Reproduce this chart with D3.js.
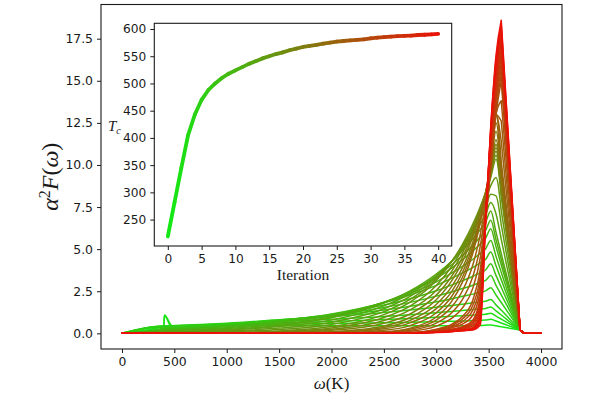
<!DOCTYPE html>
<html><head><meta charset="utf-8">
<script src="https://cdn.jsdelivr.net/npm/d3@7/dist/d3.min.js"></script>
<style>body{margin:0;background:#fff}svg{display:block}</style>
</head><body><svg id="c" width="600" height="398"></svg>
<script>
// ---------- data ----------
const omegaGrid = [0,400,405,480,1000,1500,2000,2500,2750,3000,3150,3250,3350,3420,3470,3520,3570,3620,3800,3840,4000];
const spectra = [
[0,0.45,1.09,0.45,0.45,0.45,0.45,0.45,0.45,0.45,0.45,0.45,0.46,0.47,0.48,0.50,0.45,0.39,0.2,0,0],
[0,0.44,1.05,0.30,0.49,0.53,0.58,0.63,0.66,0.70,0.72,0.73,0.76,0.78,0.79,0.83,0.73,0.61,0.2,0,0],
[0,0.44,0.44,0.45,0.53,0.61,0.70,0.82,0.88,0.95,1.01,1.04,1.08,1.11,1.13,1.20,1.02,0.85,0.2,0,0],
[0,0.43,0.43,0.45,0.55,0.70,0.84,1.00,1.11,1.23,1.30,1.35,1.41,1.45,1.48,1.57,1.33,1.09,0.2,0,0],
[0,0.42,0.42,0.45,0.60,0.81,1.00,1.24,1.39,1.55,1.66,1.73,1.81,1.86,1.90,2.01,1.69,1.38,0.2,0,0],
[0,0.37,0.37,0.40,0.56,0.79,1.04,1.39,1.61,1.87,2.06,2.20,2.33,2.45,2.52,2.71,2.28,1.83,0.2,0,0],
[0,0.32,0.33,0.35,0.51,0.77,1.08,1.53,1.84,2.21,2.47,2.66,2.86,3.02,3.14,3.43,2.85,2.29,0.2,0,0],
[0,0.27,0.28,0.30,0.47,0.76,1.12,1.68,2.06,2.53,2.88,3.13,3.39,3.61,3.76,4.13,3.44,2.74,0.2,0,0],
[0,0.22,0.23,0.25,0.43,0.74,1.15,1.82,2.28,2.85,3.28,3.59,3.92,4.19,4.38,4.83,4.01,3.19,0.2,0,0],
[0,0.19,0.20,0.22,0.39,0.68,1.10,1.84,2.37,3.06,3.59,3.98,4.40,4.75,5.01,5.52,4.58,3.63,0.2,0,0],
[0,0.16,0.17,0.18,0.33,0.62,1.06,1.85,2.46,3.27,3.89,4.37,4.90,5.31,5.64,6.21,5.15,4.07,0.2,0,0],
[0,0.13,0.13,0.15,0.29,0.54,0.99,1.83,2.48,3.38,4.09,4.63,5.24,5.72,6.10,6.72,5.57,4.40,0.2,0,0],
[0,0.10,0.10,0.11,0.23,0.47,0.92,1.80,2.52,3.52,4.30,4.92,5.61,6.16,6.59,7.26,6.01,4.74,0.2,0,0],
[0,0.08,0.08,0.09,0.19,0.40,0.79,1.63,2.35,3.42,4.30,5.01,5.83,6.50,7.03,7.77,7.10,5.59,0.2,0,0],
[0,0.06,0.06,0.07,0.14,0.31,0.66,1.46,2.19,3.33,4.30,5.10,6.06,6.84,7.47,8.26,8.17,6.45,0.2,0,0],
[0,0.03,0.03,0.04,0.09,0.23,0.53,1.29,2.02,3.23,4.29,5.19,6.28,7.18,7.91,8.77,9.26,7.29,0.2,0,0],
[0,0.01,0.01,0.02,0.04,0.14,0.40,1.11,1.86,3.14,4.29,5.28,6.50,7.52,8.35,9.26,10.34,8.14,0.2,0,0],
[0,0.01,0.01,0.02,0.03,0.11,0.32,0.94,1.62,2.84,4.00,5.02,6.32,7.43,8.35,9.39,10.58,8.33,0.2,0,0],
[0,0.01,0.01,0.01,0.03,0.08,0.24,0.76,1.39,2.55,3.71,4.76,6.14,7.34,8.34,9.49,10.81,8.51,0.2,0,0],
[0,0,0,0.01,0.02,0.05,0.18,0.60,1.15,2.27,3.42,4.51,5.95,7.24,8.33,9.59,11.02,8.67,0.2,0,0],
[0,0,0,0,0.01,0.02,0.10,0.44,0.94,2.00,3.15,4.26,5.77,7.14,8.31,9.67,11.22,8.82,0.2,0,0],
[0,0,0,0,0.01,0.02,0.08,0.35,0.77,1.71,2.80,3.90,5.44,6.89,8.18,9.70,11.5,9.04,0.2,0,0],
[0,0,0,0,0.01,0.01,0.06,0.27,0.62,1.47,2.51,3.61,5.22,6.79,8.20,9.92,12.0,9.44,0.2,0,0],
[0,0,0,0,0,0.01,0.03,0.18,0.46,1.22,2.22,3.33,5.00,6.68,8.23,10.14,12.5,9.83,0.2,0,0],
[0,0,0,0,0,0,0.01,0.10,0.31,0.97,1.93,3.04,4.78,6.57,8.25,10.36,13.0,10.22,0.2,0,0],
[0,0,0,0,0,0,0.01,0.08,0.25,0.79,1.59,2.53,4.09,5.88,7.81,10.22,13.0,11.42,0.2,0,0],
[0,0,0,0,0,0,0.01,0.06,0.18,0.61,1.24,2.02,3.39,5.19,7.38,10.08,13.0,12.61,0.2,0,0],
[0,0,0,0,0,0,0,0.04,0.12,0.43,0.90,1.51,2.70,4.49,6.94,9.94,13.0,13.81,0.2,0,0],
[0,0,0,0,0,0,0,0.02,0.05,0.25,0.55,1.00,2.00,3.80,6.50,9.80,13.0,15.0,0.2,0,0],
[0,0,0,0,0,0,0,0.02,0.04,0.22,0.48,0.85,1.70,3.40,6.63,10.05,13.33,15.35,0.2,0,0],
[0,0,0,0,0,0,0,0.01,0.04,0.19,0.40,0.70,1.40,3.00,6.75,10.30,13.65,15.70,0.2,0,0],
[0,0,0,0,0,0,0,0.01,0.03,0.15,0.33,0.55,1.10,2.60,6.88,10.55,13.98,16.05,0.2,0,0],
[0,0,0,0,0,0,0,0,0.02,0.12,0.25,0.40,0.80,2.20,7.00,10.8,14.3,16.4,0.2,0,0],
[0,0,0,0,0,0,0,0,0.02,0.11,0.23,0.35,0.69,1.95,6.95,11.05,14.6,16.7,0.2,0,0],
[0,0,0,0,0,0,0,0,0.01,0.10,0.20,0.30,0.58,1.70,6.90,11.30,14.9,17.0,0.2,0,0],
[0,0,0,0,0,0,0,0,0.01,0.09,0.18,0.25,0.46,1.45,6.85,11.55,15.2,17.3,0.2,0,0],
[0,0,0,0,0,0,0,0,0,0.08,0.15,0.20,0.35,1.20,6.80,11.8,15.5,17.6,0.2,0,0],
[0,0,0,0,0,0,0,0,0,0.07,0.14,0.19,0.31,1.03,6.73,11.93,15.75,17.85,0.2,0,0],
[0,0,0,0,0,0,0,0,0,0.07,0.13,0.18,0.28,0.85,6.65,12.05,16.0,18.1,0.2,0,0],
[0,0,0,0,0,0,0,0,0,0.06,0.11,0.16,0.24,0.68,6.58,12.18,16.25,18.35,0.2,0,0],
[0,0,0,0,0,0,0,0,0,0.05,0.10,0.15,0.20,0.50,6.50,12.3,16.5,18.6,0.2,0,0]
];
const iterations = [0,1,2,3,4,5,6,7,8,9,10,11,12,13,14,15,16,17,18,19,20,21,22,23,24,25,26,27,28,29,30,31,32,33,34,35,36,37,38,39,40];
const tcValues = [219,282,345,405,443,470,488,500,510,518,524,530,536,541,546,550,554,557,561,564,567,569,571,573,575,577,578,579,580,581,583,584,585,586,587,587.5,588,589,589.5,590,591];
const mainXTicks = [0,500,1000,1500,2000,2500,3000,3500,4000];
const mainYTicks = [0,2.5,5,7.5,10,12.5,15,17.5];
const insetXTicks = [0,5,10,15,20,25,30,35,40];
const insetYTicks = [250,300,350,400,450,500,550,600];
const colorStart = "rgb(20,232,20)", colorEnd = "rgb(236,16,8)";

// ---------- drawing ----------
const svg = d3.select("#c");
const ink = "#1a1a1a";
const tickFont = '"DejaVu Sans", sans-serif';
const serif = '"Liberation Serif", "DejaVu Serif", serif';
const col = d3.interpolateRgb(colorStart, colorEnd);

const M = {l:101, r:562, t:4.5, b:349};
const x = d3.scaleLinear().domain([-200, 4200]).range([M.l, M.r]);
const y = d3.scaleLinear().domain([-0.93, 19.53]).range([M.b, M.t]);

const gMain = svg.append("g");
const smooth = d3.line().x(d=>x(d[0])).y(d=>y(d[1])).curve(d3.curveMonotoneX);
const straight = d3.line().x(d=>x(d[0])).y(d=>y(d[1]));
spectra.forEach((row, k) => {
  const pts = omegaGrid.map((w,i)=>[w,row[i]]);
  const d = smooth(pts.slice(0,18)) + straight(pts.slice(17));
  gMain.append("path").attr("d", d).attr("fill","none")
    .attr("stroke", col(k/(spectra.length-1))).attr("stroke-width",1.5)
    .attr("stroke-linejoin","round").attr("stroke-linecap","round");
});

function styleAxis(g, size){
  g.select(".domain").remove();
  g.selectAll(".tick line").attr("stroke", ink).attr("stroke-width",1);
  g.selectAll(".tick text").attr("fill", ink).style("font-family", tickFont).style("font-size", size+"px");
}
const ax = svg.append("g").attr("transform",`translate(0,${M.b})`)
  .call(d3.axisBottom(x).tickValues(mainXTicks).tickFormat(d3.format("d")).tickSize(4).tickPadding(4));
styleAxis(ax, 12.4);
const ay = svg.append("g").attr("transform",`translate(${M.l},0)`)
  .call(d3.axisLeft(y).tickValues(mainYTicks).tickFormat(d3.format(".1f")).tickSize(4).tickPadding(4));
styleAxis(ay, 12.4);
svg.append("rect").attr("x",M.l).attr("y",M.t).attr("width",M.r-M.l).attr("height",M.b-M.t)
  .attr("fill","none").attr("stroke",ink).attr("stroke-width",1.1);

// x label
const xl = svg.append("text").attr("x",(M.l+M.r)/2).attr("y",389).attr("text-anchor","middle")
  .style("font-family",serif).style("font-size","17px").attr("fill",ink);
xl.append("tspan").style("font-style","italic").text("ω");
xl.append("tspan").text("(K)");
// y label
const yl = svg.append("text").attr("transform",`translate(58,${(M.t+M.b)/2}) rotate(-90)`)
  .attr("text-anchor","middle").style("font-family",serif).style("font-size","24px").attr("fill",ink);
yl.append("tspan").style("font-style","italic").text("α");
yl.append("tspan").attr("dy",-8).style("font-size","16px").text("2");
yl.append("tspan").attr("dy",8).style("font-style","italic").text("F");
yl.append("tspan").text("(");
yl.append("tspan").style("font-style","italic").text("ω");
yl.append("tspan").text(")");

// ---------- inset ----------
const I = {l:154.3, r:451.7, t:23.3, b:246};
svg.append("rect").attr("x",I.l).attr("y",I.t).attr("width",I.r-I.l).attr("height",I.b-I.t).attr("fill","#fff");
const xi = d3.scaleLinear().domain([-2, 42]).range([I.l, I.r]);
const yi = d3.scaleLinear().domain([201.5, 610.5]).range([I.b, I.t]);
const gIn = svg.append("g");
for (let i=0;i<iterations.length-1;i++){
  gIn.append("line")
    .attr("x1", xi(iterations[i])).attr("y1", yi(tcValues[i]))
    .attr("x2", xi(iterations[i+1])).attr("y2", yi(tcValues[i+1]))
    .attr("stroke", col(i/(iterations.length-1))).attr("stroke-width",3.8).attr("stroke-linecap","round");
}
const axi = svg.append("g").attr("transform",`translate(0,${I.b})`)
  .call(d3.axisBottom(xi).tickValues(insetXTicks).tickFormat(d3.format("d")).tickSize(4).tickPadding(4));
styleAxis(axi, 12.2);
const ayi = svg.append("g").attr("transform",`translate(${I.l},0)`)
  .call(d3.axisLeft(yi).tickValues(insetYTicks).tickFormat(d3.format("d")).tickSize(4).tickPadding(4));
styleAxis(ayi, 12.2);
svg.append("rect").attr("x",I.l).attr("y",I.t).attr("width",I.r-I.l).attr("height",I.b-I.t)
  .attr("fill","none").attr("stroke",ink).attr("stroke-width",1.1);
svg.append("text").attr("x",(I.l+I.r)/2).attr("y",280).attr("text-anchor","middle")
  .style("font-family",serif).style("font-size","15.5px").attr("fill",ink).text("Iteration");
const tl = svg.append("text").attr("x",108).attr("y",131)
  .style("font-family",serif).style("font-size","15px").attr("fill",ink);
tl.append("tspan").style("font-style","italic").text("T");
tl.append("tspan").attr("dy",3).style("font-style","italic").style("font-size","10px").text("c");
</script></body></html>
